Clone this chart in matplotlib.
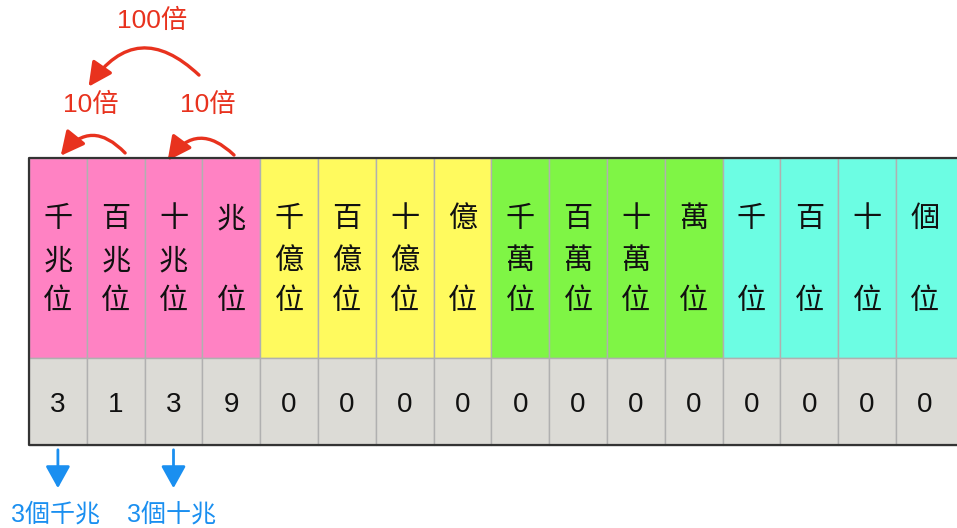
import matplotlib
matplotlib.use("Agg")
import matplotlib.pyplot as plt
from matplotlib.patches import Rectangle, FancyArrowPatch

plt.rcParams['font.family'] = ['Noto Sans CJK TC', 'DejaVu Sans']
mixed = ['Liberation Sans', 'Noto Sans CJK TC']

# Data
places = [["千", "兆", "位"], ["百", "兆", "位"], ["十", "兆", "位"], ["兆", "", "位"],
          ["千", "億", "位"], ["百", "億", "位"], ["十", "億", "位"], ["億", "", "位"],
          ["千", "萬", "位"], ["百", "萬", "位"], ["十", "萬", "位"], ["萬", "", "位"],
          ["千", "", "位"], ["百", "", "位"], ["十", "", "位"], ["個", "", "位"]]
digits = ["3", "1", "3", "9", "0", "0", "0", "0", "0", "0", "0", "0", "0", "0", "0", "0"]
groups = [0, 0, 0, 0, 1, 1, 1, 1, 2, 2, 2, 2, 3, 3, 3, 3]
group_colors = ["#FF82C3", "#FFFA5E", "#7FF545", "#6CFDE3"]
red_labels = ["100倍", "10倍", "10倍"]
blue_labels = ["3個千兆", "3個十兆"]
blue_cols = [0, 2]

fig = plt.figure(figsize=(9.57, 5.28), dpi=100)
ax = fig.add_axes([0, 0, 1, 1])
ax.set_xlim(0, 957)
ax.set_ylim(528, 0)
ax.axis('off')

x0, cw = 29, 57.8
top, mid, bot = 158, 358, 445

n = len(places)
for i, (p, d, g) in enumerate(zip(places, digits, groups)):
    x = x0 + i * cw
    w = cw if i < n - 1 else cw + 20
    ax.add_patch(Rectangle((x, top), w, mid - top, facecolor=group_colors[g],
                           edgecolor="#B0B0B0", lw=1.0))
    ax.add_patch(Rectangle((x, mid), w, bot - mid, facecolor="#DCDBD6",
                           edgecolor="#B0B0B0", lw=1.0))
    cx = x + cw / 2
    for ch, y in zip(p, [219, 261, 301]):
        if ch:
            ax.text(cx, y, ch, ha='center', va='center', fontsize=21, color="#111111")
    ax.text(cx, 405, d, ha='center', va='center', fontsize=20, color="#111111",
            family=['Liberation Sans'])

# outer border
ax.plot([980, x0, x0, 980], [top, top, bot, bot], color="#333333", lw=1.6,
        solid_capstyle='butt', clip_on=False)

red = "#E8321E"
arrows = [((201, 77), (87, 89), 0.6), ((127, 155), (59, 158), 0.6), ((236, 157), (166, 163), 0.6)]
for (s, e, r) in arrows:
    ax.add_patch(FancyArrowPatch(s, e, connectionstyle=f"arc3,rad={r}",
                                 arrowstyle="-|>,head_length=9,head_width=4.5",
                                 color=red, lw=2.4, mutation_scale=1.6))
for lab, (x, y) in zip(red_labels, [(152, 21), (91, 105), (208, 105)]):
    ax.text(x, y, lab, ha='center', va='center', fontsize=19, color=red, family=mixed)

blue = "#1A8FF0"
for lab, c in zip(blue_labels, blue_cols):
    cx = x0 + c * cw + cw / 2
    ax.add_patch(FancyArrowPatch((cx, 447), (cx, 491),
                                 arrowstyle="-|>,head_length=9,head_width=5",
                                 color=blue, lw=2.0, mutation_scale=1.5))
    ax.text(cx - 2, 515, lab, ha='center', va='center', fontsize=18, color=blue, family=mixed)

fig.savefig("out.png", dpi=100)
